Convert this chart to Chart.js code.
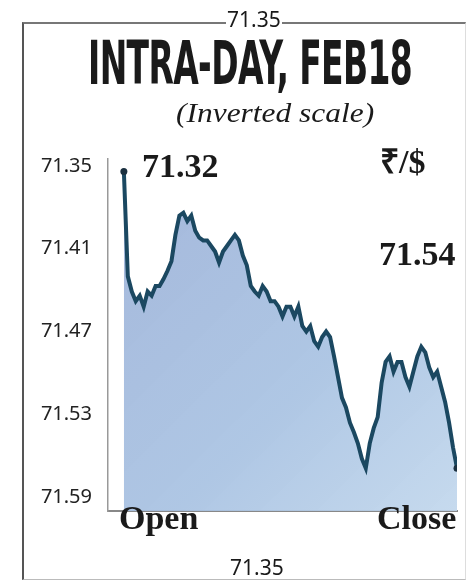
<!DOCTYPE html>
<html>
<head>
<meta charset="utf-8">
<script src="https://cdn.jsdelivr.net/npm/chart.js@4/dist/chart.umd.min.js"></script>
<style>
  html, body { margin: 0; padding: 0; background: #fff; }
  #wrap { position: relative; width: 468px; height: 586px; overflow: hidden; }
  #frame { position: absolute; left: 22px; top: 22px; width: 444px; height: 558px;
           border-left: 2px solid #555; border-top: 2px solid #777; border-bottom: 1px solid #bbb;
           border-right: 1px solid #ddd; box-sizing: border-box; }
  canvas { position: absolute; left: 0; top: 0; }
  .lbl { position: absolute; white-space: nowrap; color: #1a1a1a; line-height: 1; }
  .num { font-family: "Noto Sans", sans-serif; font-size: 21px; background: #fff; padding: 0 1px; }
  .title { font-family: "Liberation Sans Narrow", "DejaVu Sans Condensed", sans-serif; font-weight: bold;
           font-size: 60px; left: 88px; top: 33px; transform-origin: 0 0; letter-spacing: -1px; }
  .sub { font-family: "Liberation Serif", serif; font-style: italic; font-size: 27px; left: 176px; top: 100px; }
  .serifb { font-family: "Liberation Serif", serif; font-weight: bold; font-size: 34px; }
</style>
</head>
<body>
<div id="wrap">
  <div id="frame"></div>
  <canvas id="c" width="468" height="586"></canvas>
  <div class="lbl num" style="left:226px; top:9px;">71.35</div>
  <div class="lbl title" id="title">INTRA-DAY, FEB18</div>
  <div class="lbl sub" id="sub">(Inverted scale)</div>
  <div class="lbl serifb" style="left:142px; top:149px;">71.32</div>
  <div class="lbl serifb" style="left:380px; top:145px;">₹/$</div>
  <div class="lbl serifb" style="left:379px; top:237px;">71.54</div>
  <div class="lbl serifb" style="left:119px; top:501px;">Open</div>
  <div class="lbl serifb" style="left:377px; top:501px;">Close</div>
  <div class="lbl num" style="left:229px; top:557px; background:transparent;">71.35</div>
</div>
<script>
// rupee per dollar through the session (inverted scale)
const rates = [
  71.354, 71.430, 71.441, 71.448, 71.444, 71.452, 71.441, 71.444, 71.437, 71.437,
  71.432, 71.426, 71.419, 71.400, 71.386, 71.384, 71.390, 71.386, 71.397, 71.402,
  71.404, 71.404, 71.408, 71.412, 71.420, 71.412, 71.408, 71.404, 71.400, 71.404,
  71.415, 71.422, 71.437, 71.441, 71.444, 71.437, 71.441, 71.448, 71.448, 71.452,
  71.459, 71.452, 71.452, 71.459, 71.452, 71.466, 71.470, 71.466, 71.477, 71.481,
  71.474, 71.470, 71.474, 71.488, 71.503, 71.518, 71.525, 71.536, 71.543, 71.551,
  71.562, 71.569, 71.551, 71.540, 71.532, 71.507, 71.492, 71.488, 71.499, 71.492,
  71.492, 71.503, 71.510, 71.499, 71.488, 71.481, 71.485, 71.496, 71.503, 71.499,
  71.510, 71.521, 71.536, 71.554, 71.569
];
const tickValues = [71.35, 71.41, 71.47, 71.53, 71.59];

// squeeze the headline like a condensed face, fit the subtitle to width
const t = document.getElementById('title');
t.style.transform = 'scaleX(' + (324 / t.offsetWidth) + ')';
const s = document.getElementById('sub');
s.style.transformOrigin = '0 0';
s.style.transform = 'scaleX(' + (198 / s.offsetWidth) + ')';

const context = document.getElementById('c').getContext('2d');
const points = rates.map((v, i) => ({x: i, y: v}));

const chart = new Chart(context, {
  type: 'line',
  data: {
    datasets: [{
      data: points,
      borderColor: '#1b4861',
      borderWidth: 4,
      tension: 0,
      fill: 'start',
      backgroundColor: (c) => {
        const area = c.chart.chartArea;
        if (!area) return 'rgba(165,188,222,0.9)';
        const g = c.chart.ctx.createLinearGradient(area.left, area.top, area.right, area.bottom);
        g.addColorStop(0, 'rgba(158,178,216,0.95)');
        g.addColorStop(0.6, 'rgba(168,194,226,0.92)');
        g.addColorStop(1, 'rgba(192,214,236,0.9)');
        return g;
      },
      pointRadius: (c) => (c.dataIndex === 0 || c.dataIndex === rates.length - 1) ? 3.5 : 0,
      pointBackgroundColor: '#1b3040',
      pointBorderWidth: 0
    }]
  },
  options: {
    responsive: false,
    animation: false,
    layout: { padding: { top: 159, bottom: 67, left: 0, right: 11 } },
    plugins: { legend: { display: false }, tooltip: { enabled: false } },
    scales: {
      x: {
        type: 'linear',
        min: -4,
        max: rates.length - 1,
        grid: { display: false },
        ticks: { display: false },
        border: { color: '#888', width: 2 }
      },
      y: {
        reverse: true,
        min: 71.345,
        max: 71.600,
        afterBuildTicks: (sc) => { sc.ticks = tickValues.map(v => ({value: v})); },
        afterFit: (sc) => { sc.width = 108; },
        grid: { display: false },
        border: { color: '#999', width: 1.5 },
        ticks: {
          color: '#222',
          padding: 8,
          font: { family: 'Noto Sans', size: 20 },
          callback: (v) => Number(v).toFixed(2)
        }
      }
    }
  }
});
</script>
</body>
</html>
